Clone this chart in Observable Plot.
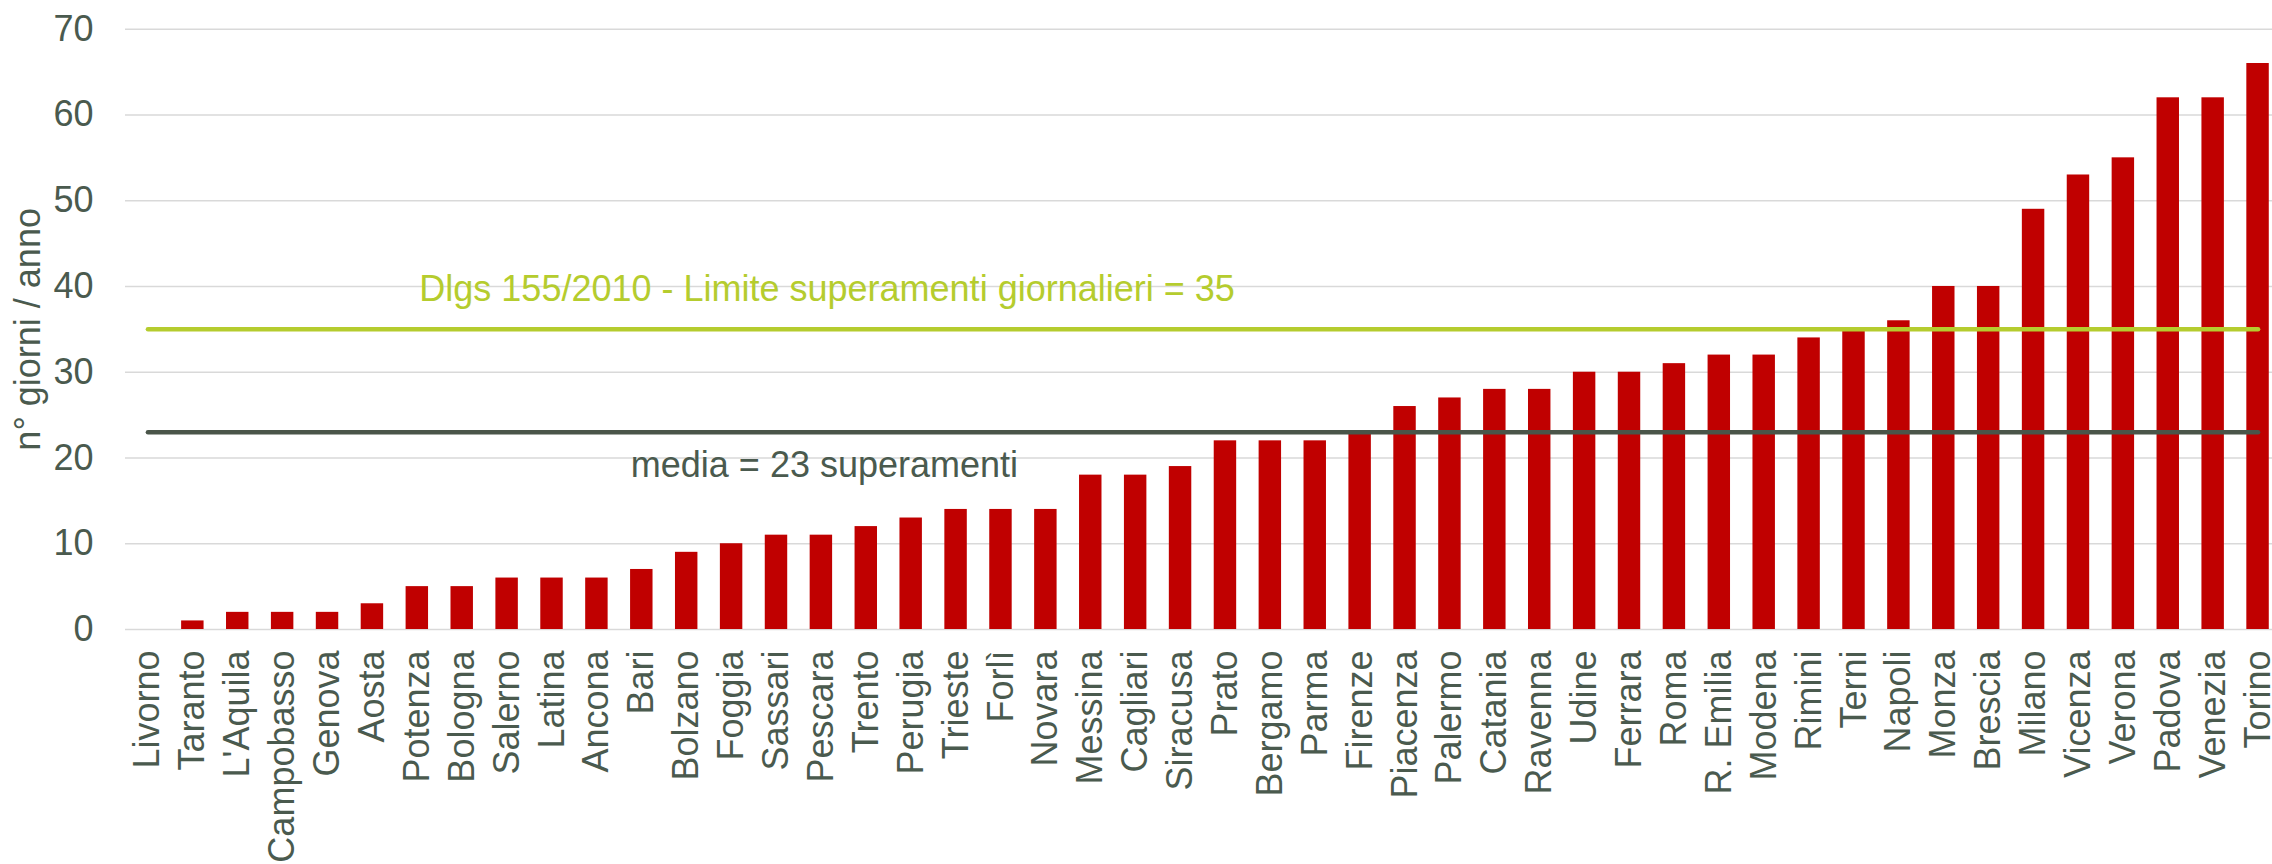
<!DOCTYPE html>
<html>
<head>
<meta charset="utf-8">
<script src="https://cdn.jsdelivr.net/npm/d3@7"></script>
<script src="https://cdn.jsdelivr.net/npm/@observablehq/plot@0.6"></script>
<style>
  html, body { margin: 0; padding: 0; background: #ffffff; }
  #chart svg { display: block; }
</style>
</head>
<body>
<div id="chart"></div>
<script>
const cities = ["Livorno","Taranto","L'Aquila","Campobasso","Genova","Aosta","Potenza","Bologna","Salerno","Latina","Ancona","Bari","Bolzano","Foggia","Sassari","Pescara","Trento","Perugia","Trieste","Forlì","Novara","Messina","Cagliari","Siracusa","Prato","Bergamo","Parma","Firenze","Piacenza","Palermo","Catania","Ravenna","Udine","Ferrara","Roma","R. Emilia","Modena","Rimini","Terni","Napoli","Monza","Brescia","Milano","Vicenza","Verona","Padova","Venezia","Torino"];
const values = [0,1,2,2,2,3,5,5,6,6,6,7,9,10,11,11,12,13,14,14,14,18,18,19,22,22,22,23,26,27,28,28,30,30,31,32,32,34,35,36,40,40,49,53,55,62,62,66];
const yTicks = [0,10,20,30,40,50,60,70];
const limitValue = 35;
const limitLabel = "Dlgs 155/2010 - Limite superamenti giornalieri = 35";
const limitLabelAt = "Potenza";
const meanValue = 23;
const meanLabel = "media = 23 superamenti";
const meanLabelAt = "Bari";
const yLabel = "n° giorni / anno";

const data = cities.map((c, i) => ({city: c, value: values[i]}));
const textColor = "#4a5a4e";

const chart = Plot.plot({
  width: 2272,
  height: 864,
  marginLeft: 125,
  marginRight: 0,
  marginTop: 28.7,
  marginBottom: 235,
  style: {fontFamily: "'Liberation Sans', Arial, sans-serif", fontSize: "36px", color: textColor, background: "#ffffff"},
  x: {domain: cities, range: [125, 2280], paddingInner: 0.5, paddingOuter: 0.25, label: null},
  y: {domain: [0, 70], label: null},
  marks: [
    Plot.ruleY(yTicks, {stroke: "#d9d9d9", strokeWidth: 1.6}),
    Plot.barY(data, {x: "city", y: "value", fill: "#c00000"}),
    Plot.lineY(cities, {x: d => d, y: () => limitValue, stroke: "#b5cc2e", strokeWidth: 4.5, strokeLinecap: "round"}),
    Plot.lineY(cities, {x: d => d, y: () => meanValue, stroke: "#4a5549", strokeWidth: 4.5, strokeLinecap: "round"}),
    Plot.text([limitLabel], {x: () => limitLabelAt, y: () => limitValue, text: d => d, textAnchor: "start", lineAnchor: "bottom", dx: 2, dy: -28, fill: "#b5cc2e", fontSize: 36}),
    Plot.text([meanLabel], {x: () => meanLabelAt, y: () => meanValue, text: d => d, textAnchor: "start", lineAnchor: "bottom", dx: -11, dy: 45, fill: textColor, fontSize: 36}),
    Plot.axisX({tickSize: 0, tickRotate: -90, tickPadding: 21, fontSize: 36, label: null}),
    Plot.axisY({ticks: yTicks, tickSize: 0, tickPadding: 32, fontSize: 36, label: yLabel, labelAnchor: "center", labelOffset: 111, labelArrow: "none"})
  ]
});
document.getElementById("chart").appendChild(chart);
</script>
</body>
</html>
